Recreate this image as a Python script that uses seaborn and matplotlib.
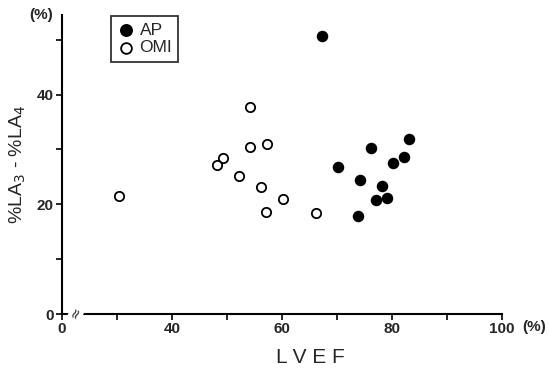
import numpy as np
import pandas as pd
import matplotlib
matplotlib.use("Agg")
import matplotlib.pyplot as plt
import seaborn as sns

# --- DATA ---
ap_lvef = [67.2, 76.2, 83.1, 82.1, 80.2, 70.1, 74.1, 78.1, 77.1, 79.1, 73.8]
ap_diff = [50.6, 30.2, 31.9, 28.6, 27.6, 26.8, 24.4, 23.4, 20.8, 21.2, 17.9]

omi_lvef = [30.4, 54.2, 54.2, 57.2, 49.2, 48.2, 52.2, 56.2, 60.1, 57.1, 66.2]
omi_diff = [21.6, 37.8, 30.4, 30.9, 28.5, 27.1, 25.1, 23.1, 20.9, 18.6, 18.4]

# broken x axis: first tick (at 20) is labelled "0"
x_ticks = [20, 30, 40, 50, 60, 70, 80, 90, 100]
x_labels = ["0", "", "40", "", "60", "", "80", "", "100"]
y_ticks = [0, 10, 20, 30, 40, 50]
y_labels = ["0", "", "20", "", "40", ""]

df = pd.DataFrame({
    "LVEF": ap_lvef + omi_lvef,
    "diff": ap_diff + omi_diff,
    "group": ["AP"] * len(ap_lvef) + ["OMI"] * len(omi_lvef),
})

sns.set_style("white")
plt.rcParams["font.family"] = ["Liberation Sans", "DejaVu Sans"]

fig = plt.figure(figsize=(5.49, 3.71), dpi=100)
ax = fig.add_axes([0.1129, 0.1536, 0.8015, 0.806])

sns.scatterplot(data=df[df.group == "AP"], x="LVEF", y="diff", ax=ax,
                color="black", edgecolor="black", linewidth=1.2, s=50, label="AP")
sns.scatterplot(data=df[df.group == "OMI"], x="LVEF", y="diff", ax=ax,
                facecolor="white", edgecolor="black", linewidth=1.3, s=45, label="OMI")

ax.set_xlim(20, 100)
ax.set_ylim(0, 54.5)
ax.set_xticks(x_ticks)
ax.set_xticklabels(x_labels, fontsize=11, fontweight="bold")
ax.set_yticks(y_ticks)
ax.set_yticklabels(y_labels, fontsize=11, fontweight="bold")
ax.tick_params(direction="out", length=4, width=1.2, pad=2, color="black")
ax.tick_params(axis="x", bottom=True)
ax.tick_params(axis="y", left=True)

for side in ["top", "right"]:
    ax.spines[side].set_visible(False)
for side in ["left", "bottom"]:
    ax.spines[side].set_linewidth(1.5)
    ax.spines[side].set_color("black")

ax.set_xlabel("L V E F", fontsize=15)
ax.xaxis.set_label_coords(0.565, -0.115)
ax.set_ylabel(r"%LA$_3$ - %LA$_4$", fontsize=14, labelpad=6)

# axis break mark and unit labels
ax.text(22.5, 0, r"$\approx$", rotation=65, ha="center", va="center",
        fontsize=10, transform=ax.transData, clip_on=False,
        bbox=dict(facecolor="white", edgecolor="none", pad=0))
ax.text(-0.02, 1.0, "(%)", transform=ax.transAxes, ha="right", va="center",
        fontsize=11, fontweight="bold")
ax.text(1.045, -0.045, "(%)", transform=ax.transAxes, ha="left", va="center",
        fontsize=11, fontweight="bold")

leg = ax.legend(loc="upper left", bbox_to_anchor=(0.111, 0.995), frameon=True,
                fancybox=False, edgecolor="black", fontsize=12.5,
                handletextpad=0.3, borderpad=0.35, labelspacing=0.15,
                handlelength=1.0, borderaxespad=0, markerscale=1.15)
leg.get_frame().set_linewidth(1.3)

fig.savefig("out.png", dpi=100)
